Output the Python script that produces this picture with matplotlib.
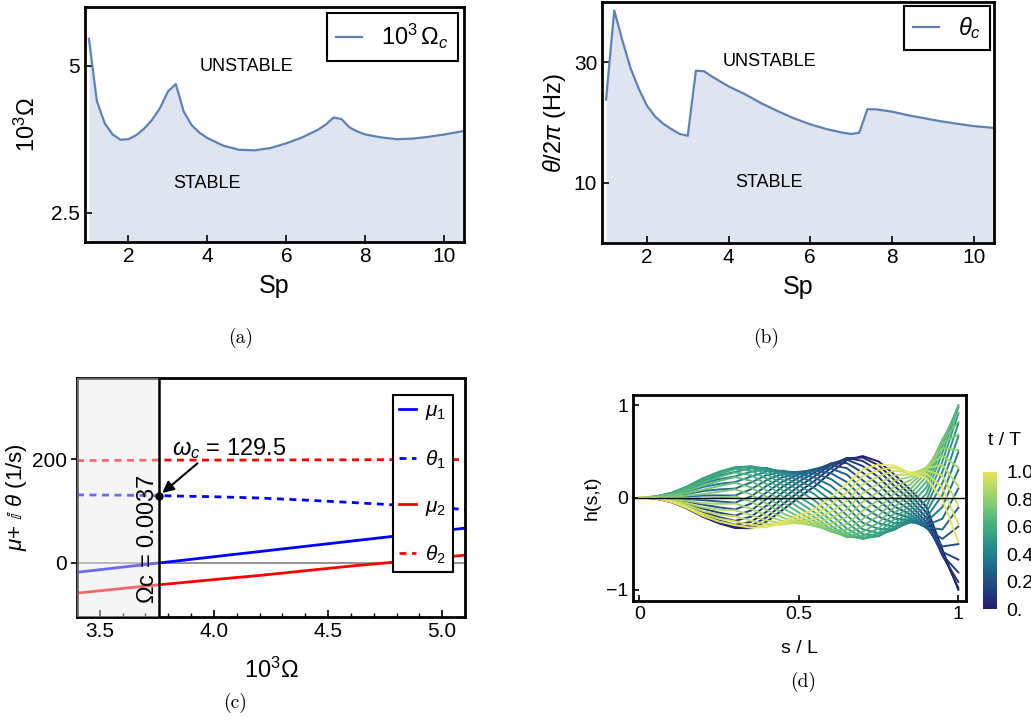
import numpy as np
import matplotlib
matplotlib.use('Agg')
import matplotlib.pyplot as plt
from matplotlib.colors import LinearSegmentedColormap, Normalize
from matplotlib.cm import ScalarMappable

plt.rcParams['font.family'] = ['Liberation Sans', 'DejaVu Sans']
plt.rcParams['mathtext.fontset'] = 'custom'
plt.rcParams['mathtext.rm'] = 'Liberation Sans'
plt.rcParams['mathtext.it'] = 'Liberation Sans:italic'
plt.rcParams['mathtext.bf'] = 'Liberation Sans:bold'

# (a), (b): critical values vs Sp
sp = [1.0, 1.2, 1.4, 1.6, 1.8, 2.0, 2.2, 2.4, 2.6, 2.8, 3.0, 3.2, 3.4, 3.6, 3.8, 4.0,
      4.4, 4.8, 5.2, 5.6, 6.0, 6.4, 6.8, 7.0, 7.2, 7.4, 7.6, 7.8, 8.0, 8.4, 8.8, 9.2,
      9.6, 10.0, 10.5]
omega_c = [5.46, 4.40, 4.02, 3.83, 3.74, 3.75, 3.82, 3.93, 4.08, 4.28, 4.56, 4.69, 4.22,
           3.99, 3.86, 3.77, 3.64, 3.57, 3.56, 3.60, 3.68, 3.78, 3.91, 4.00, 4.12, 4.09,
           3.95, 3.88, 3.83, 3.78, 3.75, 3.76, 3.79, 3.83, 3.89]
theta_c = [23.8, 38.6, 33.6, 29.0, 25.6, 22.8, 21.0, 19.8, 18.9, 18.1, 17.8, 28.6, 28.5,
           27.6, 26.8, 26.0, 24.7, 23.2, 21.9, 20.7, 19.7, 18.9, 18.3, 18.1, 18.3, 22.2,
           22.2, 22.0, 21.8, 21.2, 20.7, 20.2, 19.8, 19.4, 19.1]

# (c): eigenvalues vs 10^3 Omega
om = [3.4, 3.6, 3.76, 4.0, 4.2, 4.4, 4.6, 4.8, 5.0, 5.1]
mu1 = [-18, -8, 0, 12, 22, 32, 42, 52, 62, 67]
th1 = [131, 130.5, 129.5, 127.5, 125, 121, 116.5, 111.5, 106, 103]
mu2 = [-58, -49, -42, -32, -24, -15, -6, 2, 11, 15]
th2 = [197, 197.5, 198, 198, 198, 198.5, 198.5, 199, 199, 199]
om_crit = 3.76
w_crit = 129.5

# (d): mode shape, envelope and phase along s
s_pts = np.array([0, .05, .1, .15, .2, .25, .3, .35, .4, .45, .5, .55, .6, .65, .7,
                  .75, .8, .85, .9, .95, 1.0])
env = np.array([0, .01, .05, .12, .21, .28, .33, .34, .32, .29, .28, .31, .37, .43, .45,
                .42, .35, .27, .33, .63, 1.0])
phase0 = np.array([1, 1, 1, 1, 1, 1, 1, 1.07, 1.2, 1.35, 1.5, 1.63, 1.76, 1.89, 2.02,
                   2.12, 2.25, 2.4, 2.6, 2.85, 3.0])  # units of pi at t=0
advance = np.array([.95, .95, .95, .95, .95, .94, .93, .92, .9, .89, .88, .87, .87, .86,
                    .86, .85, .85, .84, .84, .83, .83])  # turns over 0<=t/T<=1
t_vals = np.linspace(0, 1, 26)

line_col = '#5e81b5'
fill_col = '#dfe5f0'

fig = plt.figure(figsize=(10.31, 7.2), dpi=100)
W, H = 1031, 720


def box(l, t, r, b):
    return [l / W, 1 - b / H, (r - l) / W, (b - t) / H]


def frame(ax, lw=2.0):
    for sp_ in ax.spines.values():
        sp_.set_linewidth(lw)


# ---- (a)
axa = fig.add_axes(box(85, 7, 464, 242))
axa.fill_between(sp, omega_c, 0, color=fill_col, lw=0)
axa.plot(sp, omega_c, color=line_col, lw=1.6, label=r'$10^3\,\Omega_c$')
axa.set_xlim(0.9, 10.5)
axa.set_ylim(2, 6)
axa.set_xticks([2, 4, 6, 8, 10])
axa.set_yticks([2.5, 5])
axa.set_yticklabels(['2.5', '5'])
axa.tick_params(direction='in', length=5, width=1.2, labelsize=15)
axa.set_xlabel('Sp', fontsize=18, labelpad=6)
axa.set_ylabel(r'$10^3\Omega$', fontsize=17, labelpad=8)
axa.text(5.0, 4.98, 'UNSTABLE', fontsize=13, ha='center', va='center')
axa.text(4.0, 2.99, 'STABLE', fontsize=13, ha='center', va='center')
leg = axa.legend(loc='upper right', fontsize=17, fancybox=False, edgecolor='k',
                 framealpha=1, handlelength=1.1, borderaxespad=0.25, borderpad=0.4)
leg.get_frame().set_linewidth(1.5)
frame(axa)

# ---- (b)
axb = fig.add_axes(box(602, 2, 994, 243))
axb.fill_between(sp, theta_c, 0, color=fill_col, lw=0)
axb.plot(sp, theta_c, color=line_col, lw=1.6, label=r'$\theta_c$')
axb.set_xlim(0.9, 10.5)
axb.set_ylim(0, 40)
axb.set_xticks([2, 4, 6, 8, 10])
axb.set_yticks([10, 30])
axb.tick_params(direction='in', length=5, width=1.2, labelsize=15)
axb.set_xlabel('Sp', fontsize=18, labelpad=6)
axb.set_ylabel(r'$\theta/2\pi$ (Hz)', fontsize=17, labelpad=4)
axb.text(5.0, 30.1, 'UNSTABLE', fontsize=13, ha='center', va='center')
axb.text(5.0, 10, 'STABLE', fontsize=13, ha='center', va='center')
leg = axb.legend(loc='upper right', fontsize=17, fancybox=False, edgecolor='k',
                 framealpha=1, handlelength=1.1, borderaxespad=0.15, borderpad=0.4)
leg.get_frame().set_linewidth(1.5)
frame(axb)

# ---- (c)
axc = fig.add_axes(box(77, 378, 465, 617))
axc.axhline(0, color='gray', lw=1.2, zorder=1)
axc.plot(om, mu1, color='blue', lw=2, label=r'$\mu_1$')
axc.plot(om, th1, color='blue', lw=2, ls=(0, (2.5, 2)), label=r'$\theta_1$')
axc.plot(om, mu2, color='red', lw=2, label=r'$\mu_2$')
axc.plot(om, th2, color='red', lw=2, ls=(0, (2.5, 2)), label=r'$\theta_2$')
axc.axvspan(3.4, om_crit, color='#eaeaea', alpha=0.45, lw=0, zorder=3)
axc.axvline(om_crit, color='k', lw=1.8, zorder=4)
axc.plot([om_crit], [w_crit], 'o', color='k', ms=5, zorder=5)
axc.annotate(r'$\omega_c$ = 129.5', xy=(om_crit, w_crit), xytext=(3.817, 221),
             fontsize=17, ha='left', va='center', zorder=6,
             arrowprops=dict(arrowstyle='-|>', color='k', lw=1.5, shrinkA=0, shrinkB=3,
                             relpos=(0.25, 0.0)))
axc.text(3.711, 45, r'$\Omega$c = 0.0037', rotation=90, fontsize=17,
         ha='center', va='center', zorder=6)
axc.set_xlim(3.4, 5.1)
axc.set_ylim(-104, 356)
axc.set_xticks([3.5, 4.0, 4.5, 5.0])
axc.set_xticks(np.arange(3.5, 5.11, 0.1), minor=True)
axc.set_yticks([0, 200])
axc.tick_params(axis='x', which='both', direction='in', labelsize=15)
axc.tick_params(axis='x', which='major', length=5, width=1.2)
axc.tick_params(axis='x', which='minor', length=3, width=1.0)
axc.tick_params(axis='y', direction='out', length=4, width=1.2, labelsize=15)
axc.set_xlabel(r'$10^3\Omega$', fontsize=17, labelpad=12)
axc.set_ylabel(r'$\mu$+ $\mathbb{i}$ $\theta$ (1/s)', fontsize=16, labelpad=2)
leg = axc.legend(loc='upper right', bbox_to_anchor=(0.969, 0.929), fontsize=15,
                 fancybox=False, edgecolor='k', framealpha=1, handlelength=0.8,
                 labelspacing=1.25, borderaxespad=0, borderpad=0.3, handletextpad=0.45)
leg.get_frame().set_linewidth(1.5)
leg.set_zorder(7)
frame(axc)

# ---- (d)
cmap = LinearSegmentedColormap.from_list(
    'bgy', ['#241e6e', '#1f4f86', '#22808d', '#3fae80', '#8fd070', '#e8e45a'])
axd = fig.add_axes(box(633, 395, 966, 601))
for t in t_vals:
    h = env * np.cos(np.pi * phase0 + 2 * np.pi * advance * t)
    axd.plot(s_pts, h, color=cmap(t), lw=1.4)
axd.axhline(0, color='k', lw=1.0, zorder=5)
axd.set_xlim(-0.02, 1.024)
axd.set_ylim(-1.12, 1.11)
axd.set_xticks([0, 0.5, 1])
axd.set_xticklabels(['0', '0.5', '1'])
axd.set_yticks([-1, 0, 1])
axd.set_yticklabels(['\u22121', '0', '1'])
axd.tick_params(direction='in', length=4, width=1.2, labelsize=14)
axd.set_xlabel('s / L', fontsize=14, labelpad=12)
axd.set_ylabel('h(s,t)', fontsize=14, labelpad=4)
frame(axd)

cax = fig.add_axes(box(983, 472, 997, 609))
cb = fig.colorbar(ScalarMappable(norm=Normalize(0, 1), cmap=cmap), cax=cax)
cb.outline.set_visible(False)
cb.set_ticks([0, 0.2, 0.4, 0.6, 0.8, 1.0])
cb.set_ticklabels(['0.', '0.2', '0.4', '0.6', '0.8', '1.0'])
cax.tick_params(length=2, width=0.8, color='white', labelsize=14, pad=5)
fig.text(1005 / W, 1 - 440 / H, 't / T', fontsize=14, ha='center', va='center')

# captions
for x, y, lab in [(241, 338, '(a)'), (766, 338, '(b)'), (235, 703, '(c)'), (803, 682, '(d)')]:
    fig.text(x / W, 1 - y / H, lab, fontsize=14, family='cmr10', ha='center', va='center')

fig.savefig('out.png', dpi=100)
